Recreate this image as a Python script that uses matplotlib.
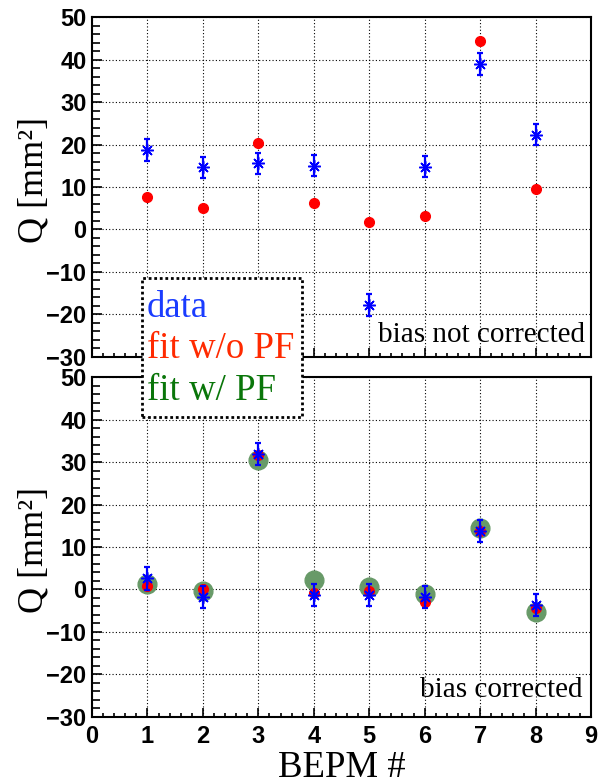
"""BEPM quadrupole moment Q: data vs. fits, bias not corrected (top) and corrected (bottom)."""

import numpy as np
import matplotlib
matplotlib.use('Agg')
import matplotlib.pyplot as plt
from matplotlib.patches import Rectangle
from matplotlib.ticker import MultipleLocator

# --- data ---
bepm = [1, 2, 3, 4, 5, 6, 7, 8]

# top panel: bias not corrected
data_raw = [18.8, 14.6, 15.6, 15.0, -17.8, 14.8, 39.1, 22.3]
data_raw_err = [2.6, 2.5, 2.5, 2.5, 2.6, 2.5, 2.6, 2.5]
fit_nopf_raw = [7.6, 5.0, 20.3, 6.2, 1.7, 3.1, 44.3, 9.5]

# bottom panel: bias corrected
data_corr = [2.6, -1.8, 31.9, -1.3, -1.3, -1.7, 13.8, -3.7]
data_corr_err = [2.7, 2.6, 2.5, 2.6, 2.6, 2.6, 2.6, 2.6]
fit_nopf_corr = [0.8, 0.0, 31.6, -0.8, -0.4, -2.9, 13.7, -4.4]
fit_pf_corr = [1.2, -0.4, 30.4, 2.3, 0.6, -1.0, 14.4, -5.4]

BLUE = '#0000ff'
RED = '#ff0000'
GREEN_MK = '#689a68'
SERIF = 'Liberation Serif'
SANS = 'Liberation Sans'

W, H = 602, 784
fig = plt.figure(figsize=(W / 100, H / 100), dpi=100)
ax_top = fig.add_axes([92 / W, 1 - 356.7 / H, 499 / W, 339.4 / H])
ax_bot = fig.add_axes([92 / W, 1 - 716.7 / H, 499 / W, 339.4 / H])


def style_axis(ax, show_xlabels):
    ax.set_xlim(0, 9)
    ax.set_ylim(-30, 50)
    ax.xaxis.set_major_locator(MultipleLocator(1))
    ax.xaxis.set_minor_locator(MultipleLocator(0.2))
    ax.yaxis.set_major_locator(MultipleLocator(10))
    ax.yaxis.set_minor_locator(MultipleLocator(2))
    ax.grid(True, which='major', color='black', linestyle=(0, (1, 2)), linewidth=0.8)
    for s in ax.spines.values():
        s.set_linewidth(1.5)
    ax.tick_params(axis='both', which='both', direction='in', width=1.2,
                   top=False, right=False)
    ax.tick_params(axis='y', which='major', length=7.5, pad=4)
    ax.tick_params(axis='y', which='minor', length=5.5)
    ax.tick_params(axis='x', which='major', length=6.5, pad=6)
    ax.tick_params(axis='x', which='minor', length=3)
    ax.tick_params(labelbottom=show_xlabels)
    for lab in ax.get_xticklabels() + ax.get_yticklabels():
        lab.set_fontfamily(SANS)
        lab.set_fontweight('bold')
        lab.set_fontsize(17)
    ax.set_ylabel('Q [mm²]', fontfamily=SERIF, fontsize=26)


def draw_data(ax, y, yerr):
    ax.errorbar(bepm, y, yerr=yerr, fmt='none', ecolor=BLUE, elinewidth=1.6,
                capsize=2.3, capthick=1.6, zorder=5)
    ax.plot(bepm, y, linestyle='none', marker=(8, 2, 0), markersize=9,
            markeredgewidth=1.1, color=BLUE, zorder=6)


# top panel
style_axis(ax_top, False)
ax_top.plot(bepm, fit_nopf_raw, 'o', color=RED, markersize=7, zorder=4)
draw_data(ax_top, data_raw, data_raw_err)
ax_top.text(0.988, 0.043, 'bias not corrected', transform=ax_top.transAxes,
            ha='right', va='baseline', fontfamily=SERIF, fontsize=21)
ax_top.yaxis.set_label_coords(-0.084, 0.52)

# bottom panel
style_axis(ax_bot, True)
ax_bot.plot(bepm, fit_pf_corr, 'o', color=GREEN_MK, markersize=13.5, zorder=3)
ax_bot.plot(bepm, fit_nopf_corr, 'o', color=RED, markersize=7, zorder=4)
draw_data(ax_bot, data_corr, data_corr_err)
ax_bot.text(0.982, 0.058, 'bias corrected', transform=ax_bot.transAxes,
            ha='right', va='baseline', fontfamily=SERIF, fontsize=21)
ax_bot.set_xlabel('BEPM #', fontfamily=SERIF, fontsize=26.5, labelpad=2)
ax_bot.yaxis.set_label_coords(-0.084, 0.49)

# legend box (drawn across both panels)
box = Rectangle((141.7 / W, 1 - 416.7 / H), 160 / W, 138.7 / H,
                transform=fig.transFigure, facecolor='white', edgecolor='black',
                linewidth=2, linestyle=(0, (1, 1)), zorder=10)
fig.add_artist(box)
legend_items = [('data', '#1a3cff', 316.7),
                ('fit w/o PF', '#ff2a00', 358.3),
                ('fit w/ PF', '#0a760a', 400.0)]
for label, col, ybase in legend_items:
    fig.text(146.7 / W, 1 - ybase / H, label, color=col, fontfamily=SERIF,
             fontsize=26.5, ha='left', va='baseline', zorder=11)

fig.savefig('out.png', dpi=100)
plt.close(fig)
